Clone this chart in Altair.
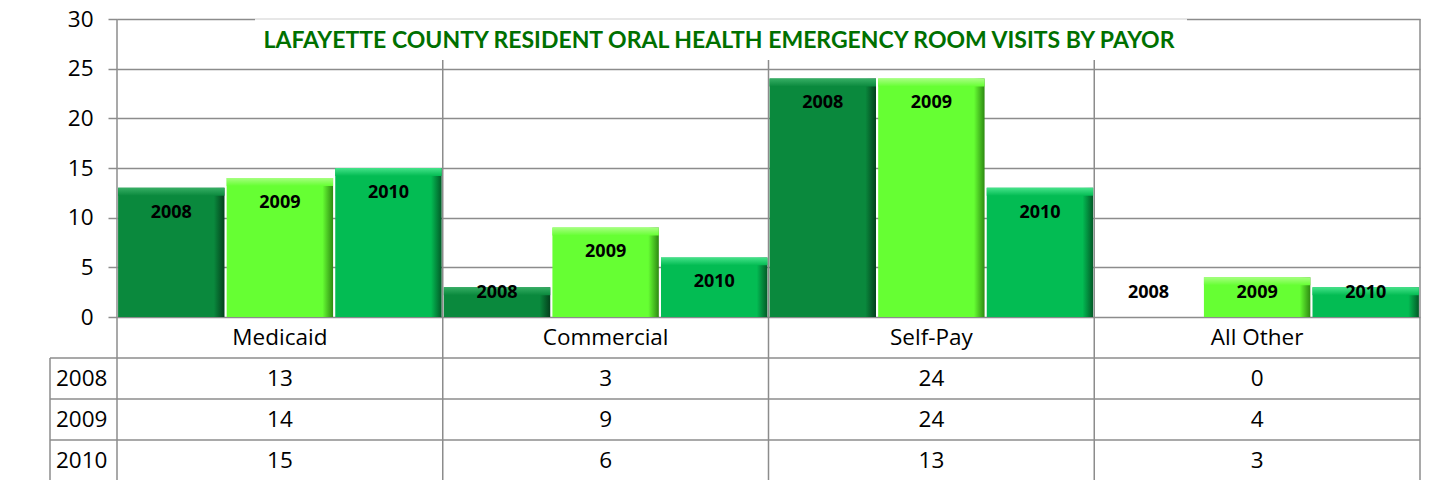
import altair as alt
import pandas as pd

# ---------------- data ----------------
categories = ["Medicaid", "Commercial", "Self-Pay", "All Other"]
years = ["2008", "2009", "2010"]
visits_2008 = [13, 3, 24, 0]
visits_2009 = [14, 9, 24, 4]
visits_2010 = [15, 6, 13, 3]
y_ticks = [0, 5, 10, 15, 20, 25, 30]
title_text = "LAFAYETTE COUNTY RESIDENT ORAL HEALTH EMERGENCY ROOM VISITS BY PAYOR"

series = {"2008": visits_2008, "2009": visits_2009, "2010": visits_2010}
# base, dark edge, light top bevel
palette = {
    "2008": ("#0A893D", "#03401C", "#36AE64"),
    "2009": ("#66FF33", "#2E8A12", "#A6FF80"),
    "2010": ("#03BC53", "#025A27", "#45E38A"),
}

# ---------------- layout (pixels) ----------------
W = 1303          # plot width
MAIN_H = 298      # bar area height
H = 461           # plot area (bars + table)
TABLE_END = 462   # table bottom (last row is cut by the window)
HEADER_W = 67 / (W / len(categories))   # header column width in column units
FONT = "Open Sans"
GRID = "#8c8c8c"

rows = []
for y in years:
    for i, c in enumerate(categories):
        rows.append({"cat": c, "idx": i, "year": y, "value": series[y][i]})
bars_df = pd.DataFrame(rows)
bars_df["col"] = bars_df["idx"] + 0.5
bars_df["txt"] = bars_df["value"].astype(str)

cat_df = pd.DataFrame({"cat": categories, "col": [i + 0.5 for i in range(len(categories))],
                       "row": ["cat"] * len(categories)})
hdr_df = pd.DataFrame({"row": years, "x": [-HEADER_W] * len(years)})
edge_df = pd.DataFrame({"e": list(range(len(categories) + 1))})
rowrule_df = pd.DataFrame({"row": years, "x": [-HEADER_W] * len(years), "x2": [len(categories)] * len(years)})
one = pd.DataFrame({"a": [0]})

row_domain = ["cat"] + years

# ---------------- main (bars) ----------------
xband = alt.X("cat:N", scale=alt.Scale(domain=categories, paddingInner=0, paddingOuter=0), axis=None)
xoff = alt.XOffset("year:N", scale=alt.Scale(domain=years, paddingInner=0.02, paddingOuter=0.01))
yscale = alt.Scale(domain=[0, 30], range=[MAIN_H, 0], nice=False)
yax = alt.Axis(values=y_ticks, grid=True, gridColor=GRID, gridWidth=1.5,
               domain=False, tickSize=9, tickColor=GRID, tickWidth=1.5,
               labelFont=FONT, labelFontSize=22.5, labelColor="black",
               labelPadding=15, title=None)

bar_layers = []
for i, yr in enumerate(years):
    base, dark, light = palette[yr]
    grad = alt.Gradient(
        gradient="linear",
        stops=[alt.GradientStop(color=base, offset=0),
               alt.GradientStop(color=base, offset=0.9),
               alt.GradientStop(color=dark, offset=1)],
        x1=0, x2=1, y1=0, y2=0,
    )
    b = alt.Chart(bars_df).transform_filter(
        (alt.datum.year == yr) & (alt.datum.value > 0)
    ).mark_bar(color=grad).encode(
        x=xband, xOffset=xoff,
        y=alt.Y("value:Q", scale=yscale, axis=yax),
        y2=alt.datum(0),
    )
    top = alt.Chart(bars_df).transform_filter(
        (alt.datum.year == yr) & (alt.datum.value > 0)
    ).transform_calculate(
        bot="max(datum.value - 0.8, 0)"
    ).mark_bar(color=alt.Gradient(
        gradient="linear",
        stops=[alt.GradientStop(color=light, offset=0), alt.GradientStop(color=base, offset=1)],
        x1=0, x2=0, y1=0, y2=1)).encode(
        x=xband, xOffset=xoff,
        y=alt.Y("value:Q", scale=yscale, axis=yax),
        y2="bot:Q",
    )
    bar_layers += [b, top]

labels = alt.Chart(bars_df).transform_calculate(
    ly="max(datum.value - 2.5, 2.4)"
).mark_text(font=FONT, fontSize=18, fontWeight="bold", color="black", baseline="middle").encode(
    x=xband, xOffset=xoff,
    y=alt.Y("ly:Q", scale=yscale, axis=yax),
    text="year:N",
)
main = alt.layer(*bar_layers, labels)

# ---------------- data table + vertical grid ----------------
xlin = alt.Scale(domain=[0, len(categories)], nice=False, zero=False)
yrow = alt.Scale(domain=row_domain, range=[MAIN_H, TABLE_END], paddingInner=0, paddingOuter=0)

vrules = alt.Chart(edge_df).mark_rule(color=GRID, strokeWidth=1.5).encode(
    x=alt.X("e:Q", scale=xlin, axis=None), y=alt.value(0), y2=alt.value(TABLE_END))
hrules = alt.Chart(rowrule_df).mark_rule(color=GRID, strokeWidth=1.5).encode(
    x=alt.X("x:Q", scale=xlin, axis=None), x2="x2:Q",
    y=alt.Y("row:N", scale=yrow, axis=None, bandPosition=0))
hdr_left = alt.Chart(hdr_df.head(1)).mark_rule(color=GRID, strokeWidth=1.5).encode(
    x=alt.X("x:Q", scale=xlin, axis=None),
    y=alt.Y("row:N", scale=yrow, axis=None, bandPosition=0), y2=alt.value(TABLE_END))
cat_text = alt.Chart(cat_df).mark_text(font=FONT, fontSize=22.5, color="black").encode(
    x=alt.X("col:Q", scale=xlin, axis=None),
    y=alt.Y("row:N", scale=yrow, axis=None), text="cat:N")
val_text = alt.Chart(bars_df).mark_text(font=FONT, fontSize=22.5, color="black").encode(
    x=alt.X("col:Q", scale=xlin, axis=None),
    y=alt.Y("year:N", scale=yrow, axis=None), text="txt:N")
hdr_text = alt.Chart(hdr_df).mark_text(font=FONT, fontSize=22.5, color="black", align="left", dx=6).encode(
    x=alt.X("x:Q", scale=xlin, axis=None),
    y=alt.Y("row:N", scale=yrow, axis=None), text="row:N")
table = alt.layer(vrules, hrules, hdr_left, cat_text, val_text, hdr_text)

# ---------------- title box ----------------
tbox = alt.Chart(one).mark_rect(fill="white").encode(
    x=alt.value(138), x2=alt.value(1070), y=alt.value(-2), y2=alt.value(41))
tline = alt.Chart(one).mark_rule(color="#cfcfcf", strokeWidth=1).encode(
    x=alt.value(138), x2=alt.value(1070), y=alt.value(0))
ttext = alt.Chart(one).mark_text(text=title_text, font="Lato", fontSize=23, fontWeight="bold",
                                 color="#007000", baseline="middle").encode(
    x=alt.value(602), y=alt.value(22))
titlegrp = alt.layer(tbox, tline, ttext)

chart = alt.layer(table, main, titlegrp).resolve_scale(
    x="independent", y="independent", xOffset="independent"
).properties(
    width=W, height=H,
    autosize=alt.AutoSizeParams(type="none"),
    padding={"left": 109, "top": 11, "right": 3, "bottom": 0},
).configure_view(stroke=None)

chart.save("out.html", embed_options={"renderer": "svg", "actions": False})
